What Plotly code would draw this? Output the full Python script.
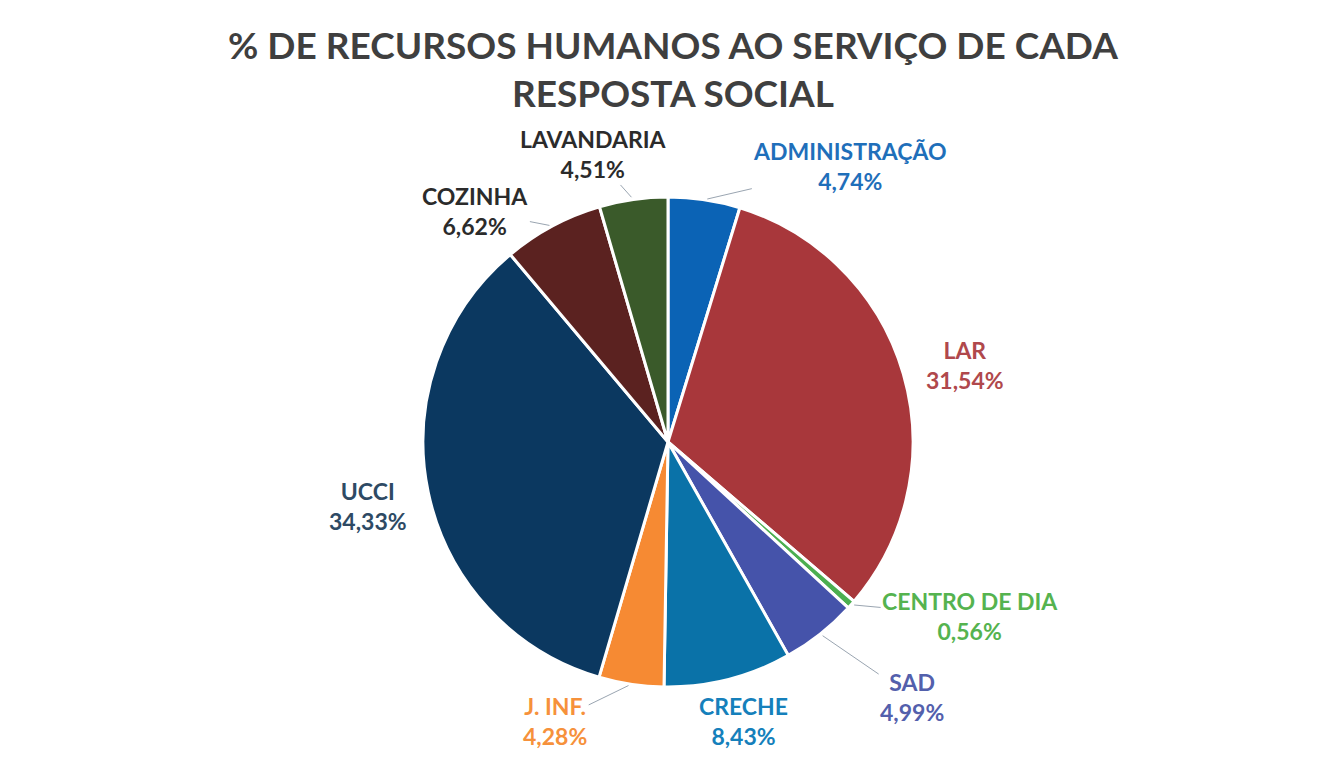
import math
import plotly.graph_objects as go

# ---- data ----
categories = ["ADMINISTRAÇÃO", "LAR", "CENTRO DE DIA", "SAD", "CRECHE",
              "J. INF.", "UCCI", "COZINHA", "LAVANDARIA"]
percentages = [4.74, 31.54, 0.56, 4.99, 8.43, 4.28, 34.33, 6.62, 4.51]
title_lines = ["% DE RECURSOS HUMANOS AO SERVIÇO DE CADA", "RESPOSTA SOCIAL"]

# ---- styles ----
slice_colors = ["#0B63B5", "#A8373B", "#4CAF50", "#4553AA", "#0A72A8",
                "#F68A33", "#0B3860", "#5B2220", "#3A5A2A"]
label_colors = ["#1F6FBA", "#B0484C", "#55B34F", "#5360AC", "#1580BB",
                "#F6913B", "#2E4A64", "#2B2B2B", "#2B2B2B"]
# label offsets (px) from the slice's outer-edge midpoint, and leader-line flags
label_dx = [146, 62, 119, 92, 15, -76, -60, -77, -40]
label_dy = [-34, -9, 11, 63, 42, 37, 14, -15, -45]
leader = [True, False, True, True, False, True, False, True, True]

PAGE_OFF = 8                      # default body margin of the html page
W, H = 1337 - PAGE_OFF, 757 - PAGE_OFF
CX, CY, R = 668 - PAGE_OFF, 442 - PAGE_OFF, 245   # pie centre / radius (px)
TITLE_Y = 69 - PAGE_OFF
FONT = "Lato"

fig = go.Figure()
fig.add_trace(go.Pie(
    labels=categories,
    values=percentages,
    sort=False,
    direction="clockwise",
    rotation=0,
    textinfo="none",
    hoverinfo="label+percent",
    marker=dict(colors=slice_colors, line=dict(color="white", width=3)),
    domain=dict(x=[(CX - R) / W, (CX + R) / W],
                y=[1 - (CY + R) / H, 1 - (CY - R) / H]),
    showlegend=False,
))

total = sum(percentages)
cum = 0.0
annotations = []
for i, (name, v) in enumerate(zip(categories, percentages)):
    mid = (cum + v / 2) / total * 2 * math.pi
    cum += v
    px = CX + R * math.sin(mid)
    py = CY - R * math.cos(mid)
    txt = f"<b>{name}</b><br><b>" + f"{v:.2f}".replace(".", ",") + "%</b>"
    annotations.append(dict(
        x=px / W, y=1 - py / H, xref="paper", yref="paper",
        ax=label_dx[i], ay=label_dy[i], axref="pixel", ayref="pixel",
        text=txt, showarrow=True, arrowhead=0, arrowwidth=1,
        arrowcolor="#9AA5B1" if leader[i] else "rgba(0,0,0,0)",
        standoff=3,
        font=dict(family=FONT, size=23, color=label_colors[i]),
        align="center",
    ))

annotations.append(dict(
    x=0.5, y=1 - TITLE_Y / H, xref="paper", yref="paper",
    xanchor="center", yanchor="middle", showarrow=False,
    text="<br>".join(f"<b>{t}</b>" for t in title_lines),
    font=dict(family=FONT, size=37, color="#3F3F3F"), align="center",
))

fig.update_layout(
    width=W, height=H,
    margin=dict(l=0, r=0, t=0, b=0),
    paper_bgcolor="white", plot_bgcolor="white",
    annotations=annotations,
)

fig.write_html("out.html")
